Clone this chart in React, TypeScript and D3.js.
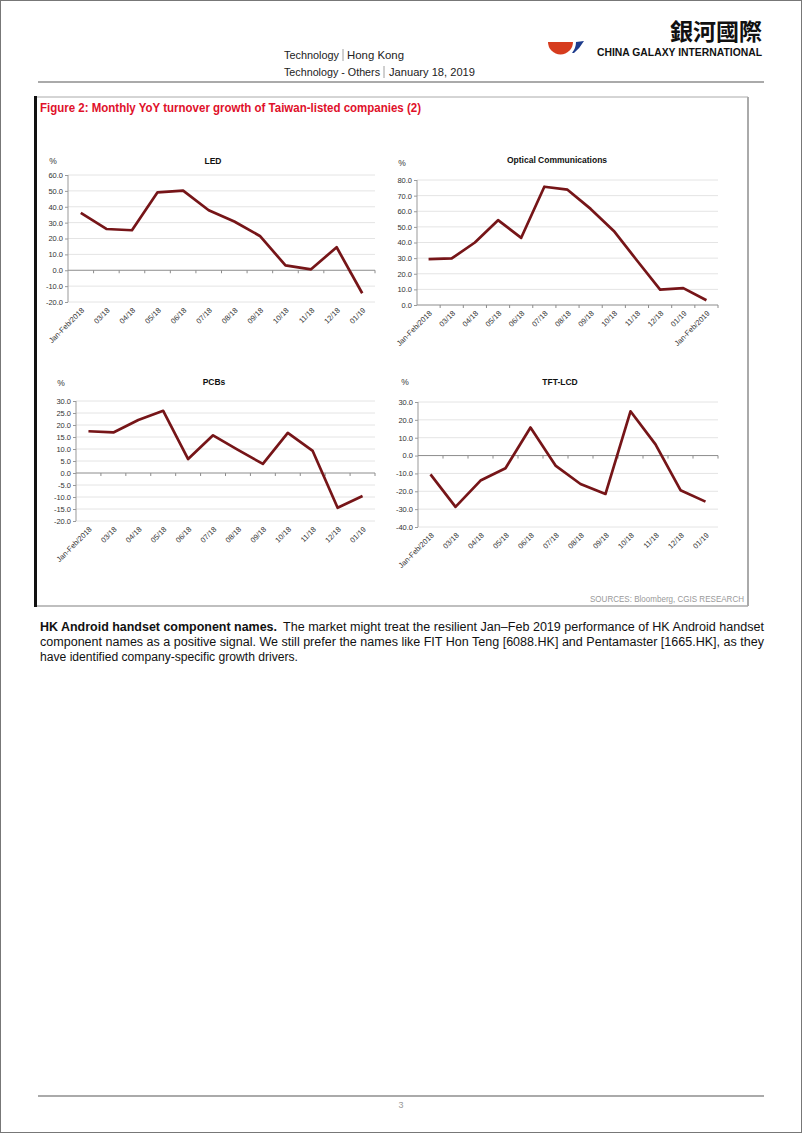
import React, { useRef, useEffect } from 'react';
import * as d3 from 'd3';

// categories
const months = ['Jan-Feb/2018', '03/18', '04/18', '05/18', '06/18', '07/18', '08/18', '09/18', '10/18', '11/18', '12/18', '01/19'];
const opticalMonths = [...months, 'Jan-Feb/2019'];

// series values (% YoY)
const ledValues = [36.1, 26.0, 25.2, 49.1, 50.2, 37.8, 30.7, 21.6, 3.1, 0.6, 14.5, -14.5];
const opticalValues = [29.4, 29.8, 40.0, 54.3, 43.0, 75.7, 73.8, 61.5, 47.4, 28.5, 9.8, 10.8, 3.0];
const pcbValues = [17.4, 16.9, 22.1, 25.9, 5.8, 15.7, 9.6, 3.8, 16.7, 9.2, -14.5, -9.6];
const tftValues = [-10.5, -28.7, -14.0, -7.1, 15.7, -5.6, -15.9, -21.5, 24.8, 6.3, -19.4, -25.8];

// y tick labels
const ledTicks = [-20, -10, 0, 10, 20, 30, 40, 50, 60];
const opticalTicks = [0, 10, 20, 30, 40, 50, 60, 70, 80];
const pcbTicks = [-20, -15, -10, -5, 0, 5, 10, 15, 20, 25, 30];
const tftTicks = [-40, -30, -20, -10, 0, 10, 20, 30];

const FONT = "'Liberation Sans', Arial, sans-serif";
const NARROW = "'Liberation Sans Narrow', 'Arial Narrow', 'Liberation Sans', Arial, sans-serif";
const LINE = '#761518';

const panels = [
  { title: 'LED', cats: months, values: ledValues, ticks: ledTicks, left: 68, right: 375, top: 175, bottom: 302, tx: 213, ty: 164, px: 53, py: 164 },
  { title: 'Optical Communications', cats: opticalMonths, values: opticalValues, ticks: opticalTicks, left: 417, right: 718, top: 180, bottom: 305, tx: 557, ty: 163, px: 402, py: 166 },
  { title: 'PCBs', cats: months, values: pcbValues, ticks: pcbTicks, left: 76, right: 375, top: 401, bottom: 521, tx: 214, ty: 385, px: 61, py: 386 },
  { title: 'TFT-LCD', cats: months, values: tftValues, ticks: tftTicks, left: 418, right: 718, top: 402, bottom: 527, tx: 560, ty: 385, px: 405, py: 385 },
];

function drawPanel(root, p) {
  const g = root.append('g');
  const x = d3.scaleBand().domain(p.cats).range([p.left, p.right]);
  const y = d3.scaleLinear().domain(d3.extent(p.ticks)).range([p.bottom, p.top]);
  const bw = x.bandwidth();

  // gridlines
  g.selectAll('line.grid').data(p.ticks.filter(d => d !== 0)).join('line')
    .attr('x1', p.left).attr('x2', p.right)
    .attr('y1', d => y(d)).attr('y2', d => y(d))
    .attr('stroke', '#e4e4e4').attr('stroke-width', 1);

  // y axis
  const yAxis = d3.axisLeft(y).tickValues(p.ticks).tickFormat(d => (+d).toFixed(1)).tickSize(3).tickPadding(2);
  const ya = g.append('g').attr('transform', `translate(${p.left},0)`).call(yAxis);
  ya.select('.domain').attr('stroke', '#999').attr('d', `M0,${p.top}V${p.bottom}`);
  ya.selectAll('.tick line').attr('stroke', '#999');
  ya.selectAll('.tick text').attr('fill', '#333').style('font-size', '7.5px').style('font-family', FONT);

  // x axis on zero line
  const y0 = y(0);
  g.append('line').attr('x1', p.left).attr('x2', p.right).attr('y1', y0).attr('y2', y0)
    .attr('stroke', '#8c8c8c').attr('stroke-width', 1);
  const bounds = [...p.cats.map(c => x(c)), p.right].slice(1);
  g.selectAll('line.xt').data(bounds).join('line')
    .attr('x1', d => d).attr('x2', d => d).attr('y1', y0).attr('y2', y0 + 3)
    .attr('stroke', '#8c8c8c');

  // category labels
  g.selectAll('text.xl').data(p.cats).join('text')
    .attr('transform', d => `translate(${x(d) + bw / 2 + 2},${p.bottom + 7}) rotate(-45)`)
    .attr('text-anchor', 'end').attr('dy', '0.35em')
    .style('font-size', '7.5px').style('font-family', FONT).attr('fill', '#333')
    .text(d => d);

  // series line
  const line = d3.line().x((d, i) => x(p.cats[i]) + bw / 2).y(d => y(d));
  g.append('path').datum(p.values).attr('d', line)
    .attr('fill', 'none').attr('stroke', LINE).attr('stroke-width', 2.7).attr('stroke-linejoin', 'round');

  // title & unit
  g.append('text').attr('x', p.tx).attr('y', p.ty).attr('text-anchor', 'middle')
    .style('font-size', '8.5px').style('font-weight', 'bold').style('font-family', FONT).attr('fill', '#111')
    .text(p.title);
  g.append('text').attr('x', p.px).attr('y', p.py).attr('text-anchor', 'middle')
    .style('font-size', '8.5px').style('font-family', FONT).attr('fill', '#333').text('%');
}

export default function App() {
  const chartRef = useRef(null);

  useEffect(() => {
    const root = d3.select(chartRef.current);
    root.selectAll('*').remove();
    panels.forEach(p => drawPanel(root, p));
  }, []);

  return (
    <svg width={802} height={1133} style={{ position: 'absolute', left: 0, top: 0, background: '#fff' }}>
      <rect x={0.5} y={0.5} width={801} height={1132} fill="#fff" stroke="#777" />

      {/* header */}
      <path d="M548,42 A12.5,12.5 0 0 0 573,42 Z" fill="#d63c1e" />
      <path d="M576,42 L584,41 Q580,48 574,53 L572,53 Q576,48 576,42 Z" fill="#1d3b8c" />
      <text x={762} y={40} textAnchor="end" style={{ fontSize: 23, fontWeight: 700, fontFamily: "'Noto Sans CJK TC', 'Noto Sans CJK SC', sans-serif" }} fill="#111">銀河國際</text>
      <text x={597} y={56} textLength={165} lengthAdjust="spacingAndGlyphs" style={{ fontSize: 10, fontWeight: 700, fontFamily: FONT }} fill="#111">CHINA GALAXY INTERNATIONAL</text>
      <text x={284} y={59} textLength={55} lengthAdjust="spacingAndGlyphs" style={{ fontSize: 11, fontFamily: NARROW }} fill="#222">Technology</text>
      <line x1={343} x2={343} y1={49} y2={61} stroke="#888" strokeWidth={0.8} />
      <text x={347} y={59} textLength={57} lengthAdjust="spacingAndGlyphs" style={{ fontSize: 11, fontFamily: NARROW }} fill="#222">Hong Kong</text>
      <text x={284} y={76} textLength={96} lengthAdjust="spacingAndGlyphs" style={{ fontSize: 11, fontFamily: NARROW }} fill="#222">Technology - Others</text>
      <line x1={384} x2={384} y1={66} y2={78} stroke="#888" strokeWidth={0.8} />
      <text x={389} y={76} textLength={86} lengthAdjust="spacingAndGlyphs" style={{ fontSize: 11, fontFamily: NARROW }} fill="#222">January 18, 2019</text>
      <line x1={38} x2={764} y1={82} y2={82} stroke="#aaa" strokeWidth={2} />

      {/* figure frame */}
      <line x1={37} x2={748} y1={97} y2={97} stroke="#aaa" strokeWidth={1} />
      <line x1={748} x2={748} y1={97} y2={606} stroke="#aaa" strokeWidth={2} />
      <line x1={37} x2={748} y1={606} y2={606} stroke="#aaa" strokeWidth={1.5} />
      <rect x={34} y={96} width={3} height={511} fill="#111" />
      <text x={40} y={112} textLength={381} lengthAdjust="spacingAndGlyphs" style={{ fontSize: 12, fontWeight: 700, fontFamily: NARROW }} fill="#e0102a">Figure 2: Monthly YoY turnover growth of Taiwan-listed companies (2)</text>

      <g ref={chartRef} />

      <text x={744} y={602} textAnchor="end" textLength={154} lengthAdjust="spacingAndGlyphs" style={{ fontSize: 8.5, fontFamily: NARROW }} fill="#999">SOURCES: Bloomberg, CGIS RESEARCH</text>

      {/* body paragraph */}
      <text x={40} y={631} textLength={237} lengthAdjust="spacingAndGlyphs" style={{ fontSize: 12.5, fontWeight: 700, fontFamily: NARROW }} fill="#111">HK Android handset component names.</text>
      <text x={283} y={631} textLength={481} lengthAdjust="spacingAndGlyphs" style={{ fontSize: 12.5, fontFamily: NARROW }} fill="#111">The market might treat the resilient Jan–Feb 2019 performance of HK Android handset</text>
      <text x={40} y={646} textLength={724} lengthAdjust="spacingAndGlyphs" style={{ fontSize: 12.5, fontFamily: NARROW }} fill="#111">component names as a positive signal. We still prefer the names like FIT Hon Teng [6088.HK] and Pentamaster [1665.HK], as they</text>
      <text x={40} y={661} textLength={258} lengthAdjust="spacingAndGlyphs" style={{ fontSize: 12.5, fontFamily: NARROW }} fill="#111">have identified company-specific growth drivers.</text>

      {/* footer */}
      <line x1={38} x2={764} y1={1096} y2={1096} stroke="#aaa" strokeWidth={2} />
      <text x={401} y={1108} textAnchor="middle" style={{ fontSize: 9, fontFamily: FONT }} fill="#999">3</text>
    </svg>
  );
}
